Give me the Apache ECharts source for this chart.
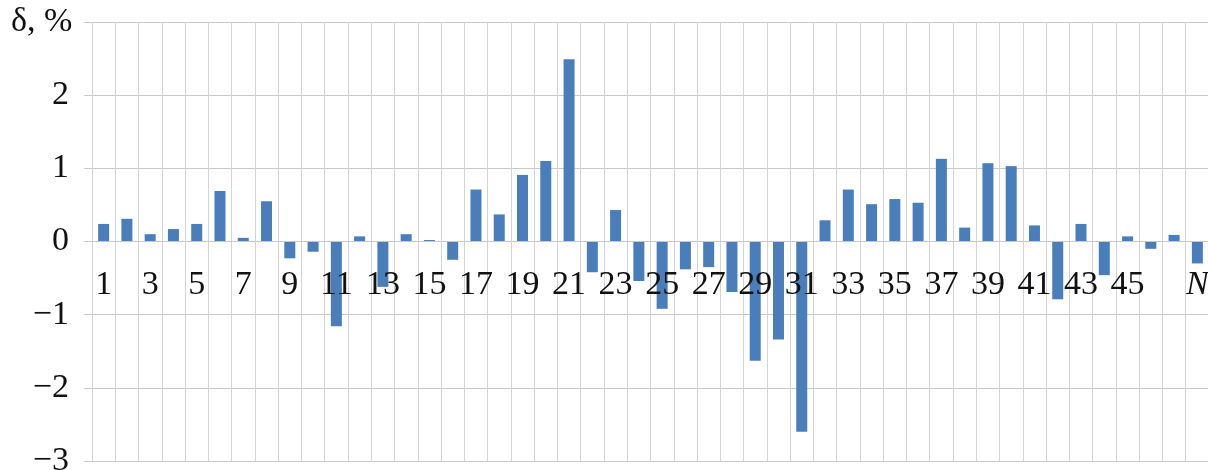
<!DOCTYPE html>
<html>
<head>
<meta charset="utf-8">
<script src="https://cdn.jsdelivr.net/npm/echarts@6/dist/echarts.min.js"></script>
<style>
  html, body { margin: 0; padding: 0; background: #fff; }
  #chart { width: 1208px; height: 470px; }
</style>
</head>
<body>
<div id="chart"></div>
<script>
// Relative deviation δ (%) per sample; the last sample is labelled N
const categories = ['1','2','3','4','5','6','7','8','9','10',
  '11','12','13','14','15','16','17','18','19','20',
  '21','22','23','24','25','26','27','28','29','30',
  '31','32','33','34','35','36','37','38','39','40',
  '41','42','43','44','45','46','47','N'];

const deviation = [0.24, 0.31, 0.10, 0.17, 0.24, 0.69, 0.05, 0.55, -0.23, -0.14,
  -1.16, 0.07, -0.62, 0.10, 0.02, -0.25, 0.71, 0.37, 0.91, 1.10,
  2.49, -0.42, 0.43, -0.54, -0.92, -0.38, -0.35, -0.69, -1.63, -1.34,
  -2.60, 0.29, 0.71, 0.51, 0.58, 0.53, 1.13, 0.19, 1.07, 1.03,
  0.22, -0.79, 0.24, -0.46, 0.07, -0.10, 0.09, -0.30];

// Category labels that are printed along the zero line
const shownLabels = ['1','3','5','7','9','11','13','15','17','19','21','23',
  '25','27','29','31','33','35','37','39','41','43','45','N'];

const yTicks = { min: -3, max: 3, step: 1 };
const yTitle = 'δ, %';

const FONT = "'Liberation Serif', 'Times New Roman', serif";
const GRID = '#c9c9c9';

const chart = echarts.init(document.getElementById('chart'));
chart.setOption({
  animation: false,
  backgroundColor: '#ffffff',
  grid: { left: 92, right: -1, top: 22, bottom: 9, containLabel: false, outerBoundsMode: 'none' },
  xAxis: {
    type: 'category',
    data: categories,
    boundaryGap: true,
    position: 'bottom',
    zlevel: 1,
    axisLine: { show: true, onZero: false, lineStyle: { color: GRID, width: 1 } },
    axisTick: { show: false },
    splitLine: { show: true, interval: 0, lineStyle: { color: '#d4d4d4', width: 1 } },
    axisLabel: {
      interval: function (index, value) { return shownLabels.indexOf(value) !== -1; },
      margin: 27,
      fontFamily: FONT,
      fontSize: 34,
      color: '#111',
      formatter: function (value) {
        return value === 'N' ? '{n|N}' : value;
      },
      rich: { n: { fontFamily: FONT, fontSize: 34, fontStyle: 'italic', color: '#111' } }
    }
  },
  yAxis: {
    type: 'value',
    min: yTicks.min,
    max: yTicks.max,
    interval: yTicks.step,
    axisLine: { show: false },
    axisTick: { show: true, length: 8, lineStyle: { color: GRID } },
    splitLine: { show: true, lineStyle: { color: GRID, width: 1 } },
    axisLabel: {
      margin: 23,
      fontFamily: FONT,
      fontSize: 34,
      color: '#111',
      formatter: function (v) {
        if (v === yTicks.max) return '{t|' + yTitle + '}';
        return v < 0 ? '\u2212' + Math.abs(v) : String(v);
      },
      rich: { t: { fontFamily: FONT, fontSize: 34, color: '#111', width: 58, align: 'left' } }
    }
  },
  series: [{
    type: 'bar',
    data: deviation,
    barWidth: 11,
    itemStyle: { color: '#4a7ebb' }
  }]
});

// Lift the category axis from the bottom edge up to the y = 0 line
const zeroY = chart.convertToPixel({ yAxisIndex: 0 }, 0);
const bottomY = chart.convertToPixel({ yAxisIndex: 0 }, yTicks.min);
chart.setOption({ xAxis: { offset: zeroY - bottomY } });
</script>
</body>
</html>
